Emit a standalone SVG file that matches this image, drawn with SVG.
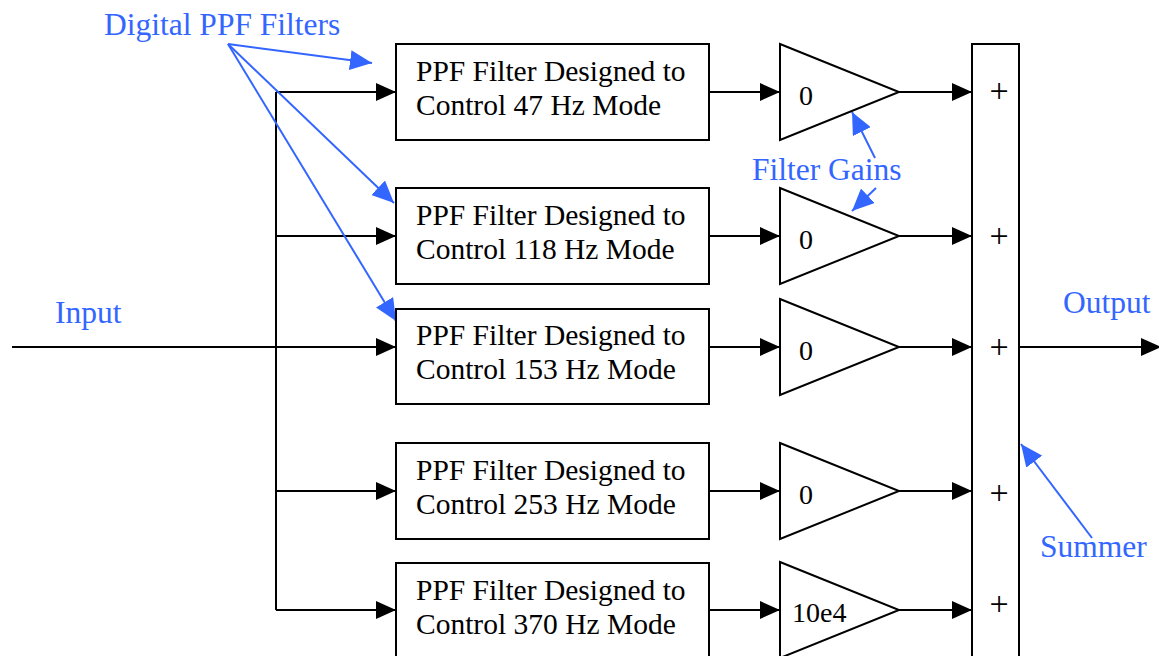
<svg xmlns="http://www.w3.org/2000/svg" width="1159" height="656" viewBox="0 0 1159 656">
<defs>
<marker id="ah" markerWidth="20" markerHeight="18" refX="20" refY="9" orient="auto" markerUnits="userSpaceOnUse"><path d="M0,0 L20,9 L0,18 Z" fill="#000"/></marker>
<marker id="bh" markerWidth="22" markerHeight="20" refX="22" refY="10" orient="auto" markerUnits="userSpaceOnUse"><path d="M0,0 L22,10 L0,20 Z" fill="#3366FF"/></marker>
<style>
.box{fill:#fff;stroke:#000;stroke-width:2}
.ln{stroke:#000;stroke-width:2;fill:none}
.bl{stroke:#3366FF;stroke-width:2;fill:none}
.t{font-family:"Liberation Serif","Times New Roman",serif;font-size:29.5px;fill:#000}
.g{font-family:"Liberation Serif","Times New Roman",serif;font-size:28px;fill:#000}
.p{font-family:"Liberation Serif","Times New Roman",serif;font-size:34px;fill:#000;text-anchor:middle}
.lab{font-family:"Liberation Serif","Times New Roman",serif;font-size:31.5px;fill:#3366FF}
</style>
</defs>
<rect width="1159" height="656" fill="#fff"/>
<g id="connectors">
<line class="ln" x1="12" y1="347" x2="396" y2="347" marker-end="url(#ah)"/>
<line class="ln" x1="276" y1="92" x2="276" y2="610"/>
<line class="ln" x1="276" y1="92" x2="396" y2="92" marker-end="url(#ah)"/>
<line class="ln" x1="276" y1="236" x2="396" y2="236" marker-end="url(#ah)"/>
<line class="ln" x1="276" y1="491" x2="396" y2="491" marker-end="url(#ah)"/>
<line class="ln" x1="276" y1="610" x2="396" y2="610" marker-end="url(#ah)"/>
<line class="ln" x1="709" y1="92" x2="780" y2="92" marker-end="url(#ah)"/>
<line class="ln" x1="709" y1="236" x2="780" y2="236" marker-end="url(#ah)"/>
<line class="ln" x1="709" y1="347" x2="780" y2="347" marker-end="url(#ah)"/>
<line class="ln" x1="709" y1="491" x2="780" y2="491" marker-end="url(#ah)"/>
<line class="ln" x1="709" y1="610" x2="780" y2="610" marker-end="url(#ah)"/>
<line class="ln" x1="899" y1="92" x2="972" y2="92" marker-end="url(#ah)"/>
<line class="ln" x1="899" y1="236" x2="972" y2="236" marker-end="url(#ah)"/>
<line class="ln" x1="899" y1="347" x2="972" y2="347" marker-end="url(#ah)"/>
<line class="ln" x1="899" y1="491" x2="972" y2="491" marker-end="url(#ah)"/>
<line class="ln" x1="899" y1="610" x2="972" y2="610" marker-end="url(#ah)"/>
<line class="ln" x1="1019" y1="347" x2="1161" y2="347" marker-end="url(#ah)"/>
<line class="bl" x1="228" y1="44" x2="372" y2="63" marker-end="url(#bh)"/>
<line class="bl" x1="228" y1="44" x2="394" y2="203" marker-end="url(#bh)"/>
<line class="bl" x1="228" y1="44" x2="396" y2="321" marker-end="url(#bh)"/>
<line class="bl" x1="875" y1="158" x2="852" y2="112" marker-end="url(#bh)"/>
<line class="bl" x1="876" y1="188" x2="852" y2="211" marker-end="url(#bh)"/>
<line class="bl" x1="1092" y1="538" x2="1021" y2="444" marker-end="url(#bh)"/>
</g>
<g id="filter47"><rect class="box" x="396" y="44" width="313" height="96"/><text class="t" x="416" y="81">PPF Filter Designed to</text><text class="t" x="416" y="115">Control 47 Hz Mode</text></g>
<g id="filter118"><rect class="box" x="396" y="188" width="313" height="96"/><text class="t" x="416" y="225">PPF Filter Designed to</text><text class="t" x="416" y="259">Control 118 Hz Mode</text></g>
<g id="filter153"><rect class="box" x="396" y="309" width="313" height="95"/><text class="t" x="416" y="345">PPF Filter Designed to</text><text class="t" x="416" y="379">Control 153 Hz Mode</text></g>
<g id="filter253"><rect class="box" x="396" y="443" width="313" height="96"/><text class="t" x="416" y="480">PPF Filter Designed to</text><text class="t" x="416" y="514">Control 253 Hz Mode</text></g>
<g id="filter370"><rect class="box" x="396" y="563" width="313" height="100"/><text class="t" x="416" y="600">PPF Filter Designed to</text><text class="t" x="416" y="634">Control 370 Hz Mode</text></g>
<g id="gain1"><path class="box" d="M780,44 L899,92 L780,140 Z"/><text class="g" x="799" y="105">0</text></g>
<g id="gain2"><path class="box" d="M780,188 L899,236 L780,284 Z"/><text class="g" x="799" y="249">0</text></g>
<g id="gain3"><path class="box" d="M780,299 L899,347 L780,395 Z"/><text class="g" x="799" y="360">0</text></g>
<g id="gain4"><path class="box" d="M780,443 L899,491 L780,539 Z"/><text class="g" x="799" y="504">0</text></g>
<g id="gain5"><path class="box" d="M780,562 L899,610 L780,658 Z"/><text class="g" x="792" y="622">10e4</text></g>
<g id="summer"><rect class="box" x="972" y="44" width="47" height="630"/>
<text class="p" x="999" y="102">+</text><text class="p" x="999" y="247">+</text><text class="p" x="999" y="358">+</text><text class="p" x="999" y="504">+</text><text class="p" x="999" y="615">+</text></g>
<g id="labels">
<text class="lab" x="104" y="35">Digital PPF Filters</text>
<text class="lab" x="752" y="180">Filter Gains</text>
<text class="lab" x="55" y="323">Input</text>
<text class="lab" x="1063" y="313">Output</text>
<text class="lab" x="1040" y="557">Summer</text>
</g>
</svg>
